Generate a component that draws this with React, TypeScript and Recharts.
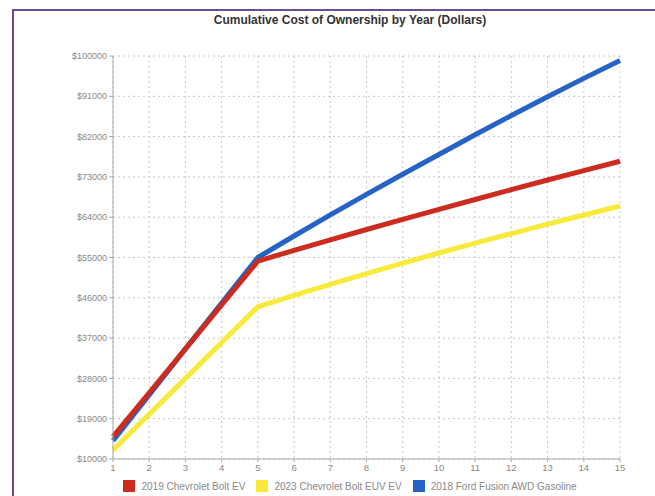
import React from "react";
import { LineChart, Line, XAxis, YAxis, CartesianGrid, Legend } from "recharts";

const years = [1, 2, 3, 4, 5, 6, 7, 8, 9, 10, 11, 12, 13, 14, 15];
const boltEV = [15000, 24800, 34600, 44400, 54200, 56600, 58950, 61250, 63500, 65750, 67950, 70150, 72300, 74400, 76500];
const boltEUV = [12000, 20000, 28000, 36000, 44000, 46550, 49000, 51400, 53750, 56000, 58200, 60350, 62450, 64500, 66500];
const fusion = [14100, 24300, 34600, 44800, 55000, 59800, 64500, 69100, 73600, 78000, 82400, 86700, 90900, 95000, 99000];
const yTicks = [10000, 19000, 28000, 37000, 46000, 55000, 64000, 73000, 82000, 91000, 100000];

const seriesNames = ["2019 Chevrolet Bolt EV", "2023 Chevrolet Bolt EUV EV", "2018 Ford Fusion AWD Gasoline"];
const seriesColors = ["#cc2b1e", "#f8ea3a", "#2563c6"];

const data = years.map((y, i) => ({ year: y, ev: boltEV[i], euv: boltEUV[i], fusion: fusion[i] }));

const FONT = "'Liberation Sans', Arial, Helvetica, sans-serif";

const LegendContent = () => (
  <div style={{ display: "flex", justifyContent: "center", alignItems: "center", fontFamily: FONT, fontSize: 10, color: "#8a8a8a" }}>
    {seriesNames.map((n, i) => (
      <div key={n} style={{ display: "flex", alignItems: "center", marginRight: i < 2 ? 11 : 0 }}>
        <div style={{ width: 12, height: 12, background: seriesColors[i], marginRight: 6 }} />
        <span>{n}</span>
      </div>
    ))}
  </div>
);

export default function App() {
  return (
    <div style={{ position: "fixed", left: 0, top: 0, width: 655, height: 496, background: "#fff", overflow: "hidden" }}>
      <div style={{ position: "absolute", left: 12, top: 9, width: 700, height: 600, borderLeft: "2px solid #6b4e8e", borderTop: "2px solid #6b4e8e" }} />
      <div style={{ position: "absolute", left: 0, top: 13, width: 700, textAlign: "center", fontFamily: FONT, fontWeight: "bold", fontSize: 12, color: "#333" }}>
        Cumulative Cost of Ownership by Year (Dollars)
      </div>
      <div style={{ position: "absolute", left: 0, top: 0 }}>
        <LineChart width={655} height={496} data={data} margin={{ top: 56, right: 35, left: 0, bottom: 17 }}>
          <CartesianGrid stroke="#c8c8c8" strokeDasharray="2 3" />
          <XAxis
            dataKey="year"
            type="number"
            domain={[1, 15]}
            ticks={years}
            interval={0}
            height={20}
            stroke="#aaa"
            tickSize={3}
            tick={{ fill: "#888", fontSize: 9.5, fontFamily: FONT }}
          />
          <YAxis
            type="number"
            domain={[10000, 100000]}
            ticks={yTicks}
            interval={0}
            width={113}
            stroke="#aaa"
            tickSize={4}
            tickFormatter={(v: number) => "$" + v}
            tick={{ fill: "#888", fontSize: 9, fontFamily: FONT }}
          />
          <Legend layout="horizontal" verticalAlign="middle" align="center" content={LegendContent} wrapperStyle={{ top: 480, left: 0, width: 700, height: 16 }} />
          <Line dataKey="fusion" stroke={seriesColors[2]} strokeWidth={5} dot={false} isAnimationActive={false} type="linear" />
          <Line dataKey="euv" stroke={seriesColors[1]} strokeWidth={5} dot={false} isAnimationActive={false} type="linear" />
          <Line dataKey="ev" stroke={seriesColors[0]} strokeWidth={5} dot={false} isAnimationActive={false} type="linear" />
        </LineChart>
      </div>
    </div>
  );
}
